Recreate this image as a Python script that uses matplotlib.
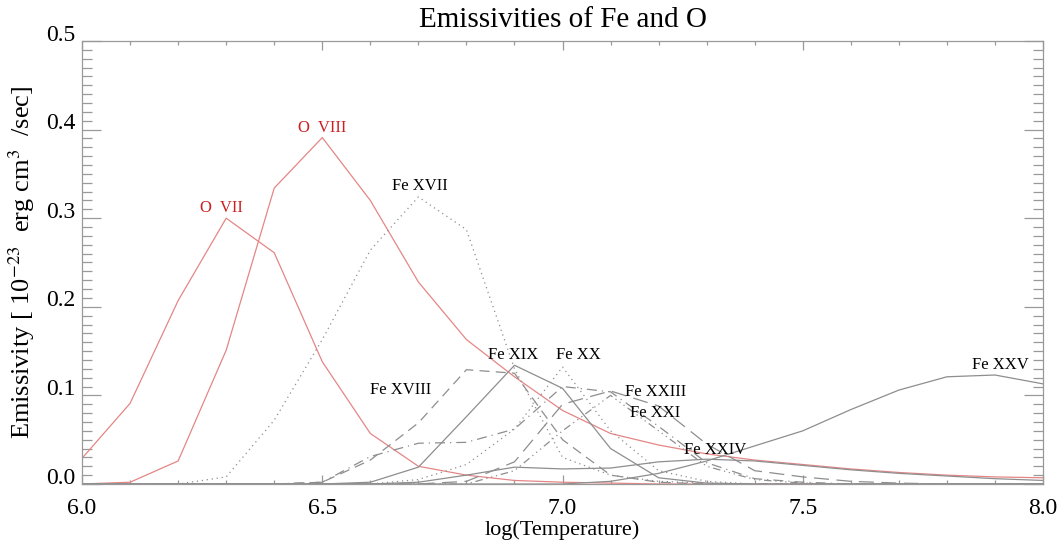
import matplotlib
matplotlib.use("Agg")
import matplotlib.pyplot as plt
from matplotlib.ticker import MultipleLocator, FormatStrFormatter
from matplotlib.transforms import ScaledTranslation

plt.rcParams["font.family"] = ["Liberation Serif", "DejaVu Serif"]
plt.rcParams["mathtext.fontset"] = "stix"

# log(T) grid
logt = [6.0, 6.1, 6.2, 6.3, 6.4, 6.5, 6.6, 6.7, 6.8, 6.9, 7.0,
        7.1, 7.2, 7.3, 7.4, 7.5, 7.6, 7.7, 7.8, 7.9, 8.0]

# emissivities, 1e-23 erg cm^3 / s
o7 = [0.029, 0.091, 0.207, 0.300, 0.261, 0.138, 0.057, 0.020, 0.010, 0.004, 0.002,
      0.001, 0.0, 0.0, 0.0, 0.0, 0.0, 0.0, 0.0, 0.0, 0.0]
o8 = [0.0, 0.002, 0.026, 0.151, 0.334, 0.391, 0.320, 0.228, 0.163, 0.121, 0.083,
      0.057, 0.044, 0.034, 0.027, 0.022, 0.017, 0.013, 0.010, 0.008, 0.007]
fe17 = [0.0, 0.0, 0.0, 0.008, 0.072, 0.163, 0.264, 0.324, 0.287, 0.130, 0.030,
        0.010, 0.003, 0.001, 0.0, 0.0, 0.0, 0.0, 0.0, 0.0, 0.0]
fe18 = [0.0, 0.0, 0.0, 0.0, 0.0, 0.002, 0.027, 0.069, 0.129, 0.125, 0.050,
        0.010, 0.002, 0.0, 0.0, 0.0, 0.0, 0.0, 0.0, 0.0, 0.0]
fe19 = [0.0, 0.0, 0.0, 0.0, 0.0, 0.0, 0.002, 0.019, 0.076, 0.134, 0.108,
        0.040, 0.007, 0.001, 0.0, 0.0, 0.0, 0.0, 0.0, 0.0, 0.0]
fe20 = [0.0, 0.0, 0.0, 0.0, 0.0, 0.0, 0.0, 0.005, 0.022, 0.062, 0.132,
        0.060, 0.015, 0.003, 0.0, 0.0, 0.0, 0.0, 0.0, 0.0, 0.0]
fe21 = [0.0, 0.0, 0.0, 0.0, 0.0, 0.0, 0.0, 0.0, 0.003, 0.025, 0.090,
        0.105, 0.088, 0.045, 0.015, 0.008, 0.003, 0.001, 0.0, 0.0, 0.0]
fe22 = [0.0, 0.0, 0.0, 0.0, 0.0, 0.0, 0.0, 0.0, 0.0, 0.015, 0.060,
        0.100, 0.060, 0.020, 0.005, 0.001, 0.0, 0.0, 0.0, 0.0, 0.0]
fe23 = [0.0, 0.0, 0.0, 0.0, 0.0, 0.002, 0.031, 0.046, 0.047, 0.062, 0.110,
        0.104, 0.065, 0.024, 0.006, 0.002, 0.0, 0.0, 0.0, 0.0, 0.0]
fe24 = [0.0, 0.0, 0.0, 0.0, 0.0, 0.0, 0.0, 0.002, 0.010, 0.019, 0.017,
        0.018, 0.025, 0.028, 0.026, 0.021, 0.016, 0.012, 0.009, 0.006, 0.004]
fe25 = [0.0, 0.0, 0.0, 0.0, 0.0, 0.0, 0.0, 0.0, 0.0, 0.0, 0.0,
        0.003, 0.012, 0.026, 0.043, 0.060, 0.084, 0.106, 0.121, 0.123, 0.113]

# label text and position (logT, emissivity)
labels = ["O  VII", "O  VIII", "Fe XVII", "Fe XVIII", "Fe XIX", "Fe XX",
          "Fe XXIII", "Fe XXI", "Fe XXIV", "Fe XXV"]
label_x = [6.291, 6.500, 6.703, 6.662, 6.897, 7.032, 7.193, 7.193, 7.317, 7.911]
label_y = [0.311, 0.402, 0.336, 0.106, 0.146, 0.146, 0.104, 0.080, 0.038, 0.134]

RED = "#e48686"
RED_TXT = "#cc2020"
GRAY = "#8e8e8e"

fig = plt.figure(figsize=(10.64, 5.48), dpi=100)
ax = fig.add_axes([0.0771, 0.1168, 0.9032, 0.8084])

lw = 0.9
ax.plot(logt, o7, color=RED, lw=lw)
ax.plot(logt, o8, color=RED, lw=lw)
ax.plot(logt, fe17, color=GRAY, lw=lw, ls=(0, (1, 3)))
ax.plot(logt, fe18, color=GRAY, lw=lw, ls=(0, (8, 5)))
ax.plot(logt, fe19, color=GRAY, lw=lw, ls="-")
ax.plot(logt, fe20, color=GRAY, lw=lw, ls=(0, (1, 3)))
ax.plot(logt, fe21, color=GRAY, lw=lw, ls=(0, (12, 6)))
ax.plot(logt, fe22, color=GRAY, lw=lw, ls=(0, (6, 3, 1, 3, 1, 3, 1, 3)))
ax.plot(logt, fe23, color=GRAY, lw=lw, ls=(0, (8, 4, 1, 4)))
ax.plot(logt, fe24, color=GRAY, lw=lw, ls="-")
ax.plot(logt, fe25, color=GRAY, lw=lw, ls="-")

for s, x, y in zip(labels, label_x, label_y):
    col = RED_TXT if s.startswith("O") else "black"
    ax.text(x, y, s, color=col, fontsize=12, ha="center", va="center")

ax.set_xlim(6.0, 8.0)
ax.set_ylim(0.0, 0.5)
ax.xaxis.set_major_locator(MultipleLocator(0.5))
ax.xaxis.set_minor_locator(MultipleLocator(0.1))
ax.yaxis.set_major_locator(MultipleLocator(0.1))
ax.yaxis.set_minor_locator(MultipleLocator(0.01))
ax.xaxis.set_major_formatter(FormatStrFormatter("%.1f"))
ax.yaxis.set_major_formatter(FormatStrFormatter("%.1f"))

for s in ax.spines.values():
    s.set_color("#999999")
    s.set_linewidth(0.9)
ax.tick_params(axis="both", which="both", direction="in", top=True, right=True,
               colors="#999999", labelcolor="black", labelsize=17, width=0.9)
ax.tick_params(axis="y", which="major", length=13.5, pad=4.5)
ax.tick_params(axis="y", which="minor", length=7)
ax.tick_params(axis="x", which="major", length=6.4, pad=10)
ax.tick_params(axis="x", which="minor", length=3.2)

ax.set_title("Emissivities of Fe and O", fontsize=21, pad=10)
ax.set_xlabel("log(Temperature)", fontsize=16, labelpad=1)
ax.set_ylabel("Emissivity [ 10$^{-23}$  erg cm$^{3}$  /sec]", fontsize=19, labelpad=7)

# IDL-style: y tick labels sit a little above their ticks
shift = ScaledTranslation(0, 6 / 72, fig.dpi_scale_trans)
for t in ax.yaxis.get_major_ticks():
    t.label1.set_transform(t.label1.get_transform() + shift)

fig.savefig("out.png", dpi=100)
